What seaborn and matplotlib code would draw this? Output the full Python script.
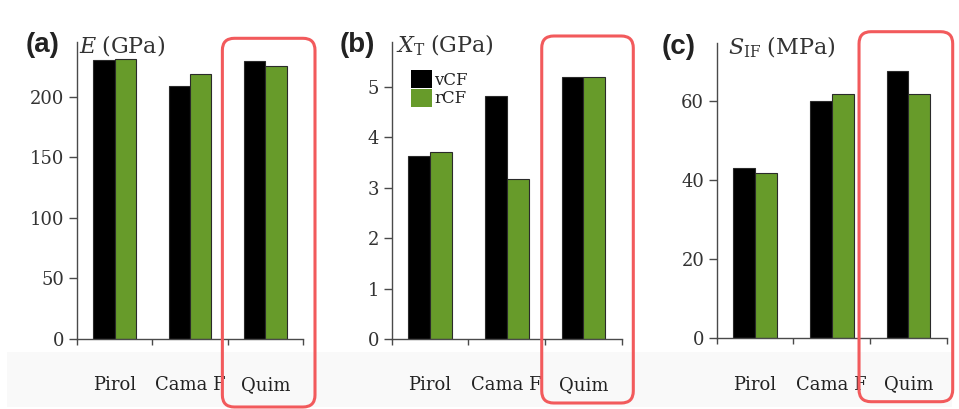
import matplotlib
matplotlib.use("Agg")
import matplotlib.pyplot as plt
import matplotlib.transforms as mtransforms
from matplotlib.patches import FancyBboxPatch, Rectangle, Patch
import seaborn as sns
import pandas as pd

# ---------------- data ----------------
categories = ["Pirol", "Cama F", "Quim"]
series = ["vCF", "rCF"]
E_vCF = [230.5, 209.0, 229.0]
E_rCF = [231.0, 218.5, 225.0]
XT_vCF = [3.62, 4.82, 5.20]
XT_rCF = [3.70, 3.17, 5.20]
S_vCF = [43.1, 60.0, 67.7]
S_rCF = [41.9, 61.8, 61.8]
E_ticks = [0, 50, 100, 150, 200]
XT_ticks = [0, 1, 2, 3, 4, 5]
S_ticks = [0, 20, 40, 60]
panel_letters = ["(a)", "(b)", "(c)"]
ylabels = [r"$E\;(\mathrm{GPa})$", r"$X_{\mathrm{T}}\;(\mathrm{GPa})$", r"$S_{\mathrm{IF}}\;(\mathrm{MPa})$"]
highlight = "Quim"

colors = {"vCF": "#000000", "rCF": "#679B2A"}

sns.set_style("white")
plt.rcParams["font.family"] = ["DejaVu Serif"]
plt.rcParams["mathtext.fontset"] = "dejavuserif"

W, H = 959, 409
fig = plt.figure(figsize=(W / 100, H / 100), dpi=100)

# bottom light band
fig.add_artist(Rectangle((7 / W, 2 / H), 945 / W, 55 / H, transform=fig.transFigure,
                         facecolor="#f9f9f9", edgecolor="none", zorder=-1))

# axes layout in pixels: left, right, top, bottom
layout = [(77, 303, 42, 339), (391.7, 621.7, 42, 339), (716.7, 946.7, 42.7, 338)]
ymaxes = [245, 5.89, 74.8]
ticks_list = [E_ticks, XT_ticks, S_ticks]
data_list = [(E_vCF, E_rCF), (XT_vCF, XT_rCF), (S_vCF, S_rCF)]
letter_pos = [(43, 45), (357, 45), (679, 47)]
ylabel_x = [79, 396, 728]
ylabel_y = [46, 45, 47]
# red box (left margin px, right margin px, top px, bottom px from top)
box_spec = [(-5.3, 12, 38.3, 407), (-3.3, 11.6, 36, 403), (-11, 6, 31.7, 401.7)]

axes = []
for i in range(3):
    l, r, t, b = layout[i]
    ax = fig.add_axes([l / W, (H - b) / H, (r - l) / W, (b - t) / H])
    axes.append(ax)
    v, rr = data_list[i]
    df = pd.DataFrame({
        "cat": categories * 2,
        "series": [series[0]] * 3 + [series[1]] * 3,
        "val": list(v) + list(rr),
    })
    sns.barplot(data=df, x="cat", y="val", hue="series", order=categories,
                hue_order=series, palette=colors, width=0.57, gap=0,
                edgecolor="#2a2a2a", linewidth=0.8, legend=False, ax=ax,
                saturation=1)
    ax.set_xlim(-0.5, 2.5)
    ax.set_ylim(0, ymaxes[i])
    ax.set_yticks(ticks_list[i])
    ax.set_yticklabels([str(tk) for tk in ticks_list[i]])
    ax.set_xticks(range(3))
    ax.set_xticklabels(categories)
    ax.set_xticks([-0.5, 0.5, 1.5, 2.5], minor=True)
    ax.set_xlabel("")
    ax.set_ylabel("")
    for s in ["top", "right"]:
        ax.spines[s].set_visible(False)
    for s in ["left", "bottom"]:
        ax.spines[s].set_color("#4a4a4a")
        ax.spines[s].set_linewidth(1.0)
    ax.tick_params(axis="y", which="major", direction="out", length=6, width=1.0,
                   color="#4a4a4a", labelsize=13, labelcolor="#333333", pad=3, left=True)
    ax.tick_params(axis="x", which="major", length=0, labelsize=13,
                   labelcolor="#222222", pad=27)
    ax.tick_params(axis="x", which="minor", direction="out", length=4, width=1.0,
                   color="#4a4a4a", bottom=True)
    ax.set_facecolor("white")

    # panel letter
    lx, ly = letter_pos[i]
    fig.text(lx / W, (H - ly) / H, panel_letters[i], ha="center", va="center",
             fontsize=20, fontweight="bold", family=["Liberation Sans", "DejaVu Sans"],
             color="#222222")
    # y label at top of axis
    fig.text(ylabel_x[i] / W, (H - ylabel_y[i]) / H, ylabels[i], ha="left", va="center",
             fontsize=16, color="#333333")

# legend in panel (b)
handles = [Patch(facecolor=colors[s], edgecolor="none") for s in series]
leg = axes[1].legend(handles, series, loc="upper left",
                     bbox_to_anchor=(0.083, 0.906), borderaxespad=0, frameon=False,
                     fontsize=12, handlelength=1.3, handleheight=1.3,
                     labelspacing=0, handletextpad=0.1, borderpad=0)
for txt in leg.get_texts():
    txt.set_color("#222222")

# red highlight boxes around the highlighted category
fig.canvas.draw()
hi = categories.index(highlight)
for i, ax in enumerate(axes):
    lm, rm, top, bot = box_spec[i]
    x0 = ax.transData.transform((hi - 0.5, 0))[0] + lm
    x1 = ax.transData.transform((hi + 0.5, 0))[0] + rm
    y0 = H - bot
    y1 = H - top
    box = FancyBboxPatch((x0, y0), x1 - x0, y1 - y0,
                         boxstyle="round,pad=0,rounding_size=12",
                         transform=mtransforms.IdentityTransform(),
                         facecolor="none", edgecolor="#F25A5C", linewidth=2.2,
                         zorder=10)
    fig.add_artist(box)

fig.savefig("out.png", dpi=100)
